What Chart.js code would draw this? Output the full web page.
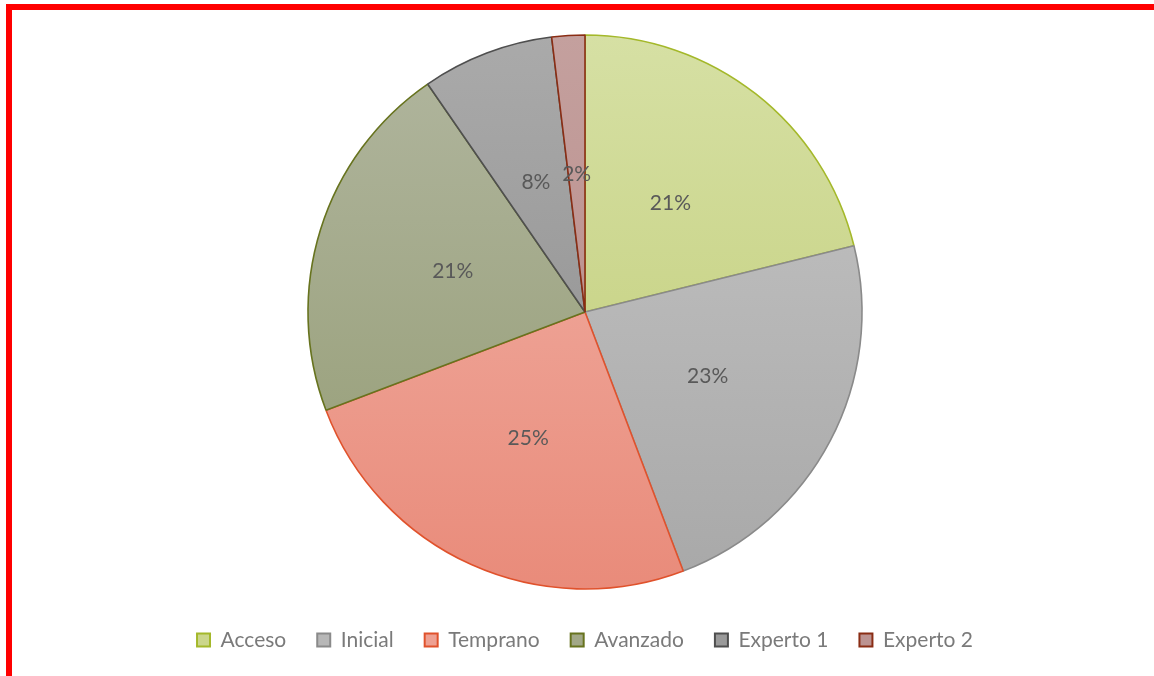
<!DOCTYPE html>
<html>
<head>
<meta charset="utf-8">
<script src="https://cdn.jsdelivr.net/npm/chart.js@4.4.1/dist/chart.umd.min.js"></script>
<style>
  html, body { margin: 0; padding: 0; background: #ffffff; }
  body { width: 1154px; height: 676px; position: relative; overflow: hidden; }
  #wrap { position: absolute; left: 0; top: 0; width: 1154px; height: 676px; }
  #frameTop { position: absolute; left: 6px; top: 4px; width: 1148px; height: 6px; background: #ff0000; z-index: 2; }
  #frameLeft { position: absolute; left: 6px; top: 4px; width: 6px; height: 672px; background: #ff0000; z-index: 2; }
</style>
</head>
<body>
<div id="wrap"><canvas id="c" width="1154" height="676"></canvas></div>
<div id="frameTop"></div>
<div id="frameLeft"></div>
<script>
const categories = ["Acceso", "Inicial", "Temprano", "Avanzado", "Experto 1", "Experto 2"];
const counts = [11, 12, 13, 11, 4, 1];
const topColors = ["#d6e0a4", "#c6c6c6", "#f2b6ac", "#b1b69f", "#aaaaaa", "#c4a09e"];
const bottomColors = ["#bfcb73", "#a8a8a8", "#e98b7a", "#939b72", "#8a8a8a", "#b58784"];
const midColors = ["#cbd68b", "#b7b7b7", "#eea092", "#a2a887", "#9a9a9a", "#bc9391"];
const borderColors = ["#a4b82a", "#8a8a8a", "#e0522c", "#67731e", "#4f4f4f", "#8a2d14"];

const PIE_RADIUS = 277;

function gradFor(context) {
  const chart = context.chart;
  const area = chart.chartArea;
  const i = context.dataIndex;
  if (!area || i === undefined) return midColors[i || 0];
  const cy = (area.top + area.bottom) / 2;
  const g = chart.ctx.createLinearGradient(0, cy - PIE_RADIUS, 0, cy + PIE_RADIUS);
  g.addColorStop(0, topColors[i]);
  g.addColorStop(1, bottomColors[i]);
  return g;
}

const total = counts.reduce((a, b) => a + b, 0);

const labelPlugin = {
  id: 'pctLabels',
  afterDatasetsDraw(chart) {
    const ctx = chart.ctx;
    const meta = chart.getDatasetMeta(0);
    ctx.save();
    ctx.font = '21px Lato';
    ctx.fillStyle = '#595959';
    ctx.textAlign = 'center';
    ctx.textBaseline = 'middle';
    meta.data.forEach((arc, i) => {
      const p = arc.tooltipPosition();
      const pct = Math.round(counts[i] / total * 100) + '%';
      ctx.fillText(pct, p.x, p.y);
    });
    ctx.restore();
  }
};

new Chart(document.getElementById('c'), {
  type: 'pie',
  data: {
    labels: categories,
    datasets: [{
      data: counts,
      backgroundColor: gradFor,
      borderColor: borderColors,
      borderWidth: 1.6,
      radius: PIE_RADIUS
    }]
  },
  options: {
    responsive: false,
    animation: false,
    devicePixelRatio: 1,
    layout: { padding: { left: 16, top: 25.5, bottom: 15.5, right: 0 } },
    plugins: {
      tooltip: { enabled: false },
      legend: {
        position: 'bottom',
        labels: {
          font: { family: 'Lato', size: 21 },
          color: '#7a7a7a',
          boxWidth: 13,
          boxHeight: 13,
          padding: 31,
          generateLabels(chart) {
            return categories.map((name, i) => ({
              text: name,
              fillStyle: midColors[i],
              strokeStyle: borderColors[i],
              lineWidth: 2,
              fontColor: '#7a7a7a',
              hidden: false,
              index: i
            }));
          }
        }
      }
    }
  },
  plugins: [labelPlugin]
});
</script>
</body>
</html>
